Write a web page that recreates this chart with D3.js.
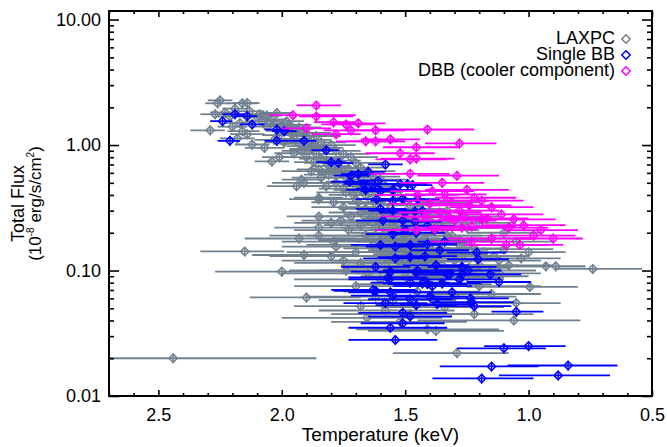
<!DOCTYPE html>
<html>
<head>
<meta charset="utf-8">
<script src="https://cdn.jsdelivr.net/npm/d3@7"></script>
<style>
body { margin: 0; background: #fff; }
svg text { font-family: "Liberation Sans", Arial, Helvetica, sans-serif; fill: #000; }
</style>
</head>
<body>
<svg width="667" height="447"></svg>
<script>
// rows: [kT, kT lower bound, kT upper bound, total flux]
const laxpc = [
  [2.25,2.20,2.30,2.27],[2.26,2.21,2.31,2.15],[2.16,2.10,2.22,2.15],[2.14,2.09,2.20,2.16],
  [2.19,2.14,2.24,1.95],[2.27,2.21,2.33,1.76],[2.23,2.17,2.29,1.82],[2.13,2.07,2.19,1.86],
  [2.09,2.03,2.15,1.76],[2.21,2.15,2.27,1.69],[2.10,2.04,2.16,1.66],[2.06,2.00,2.13,1.72],
  [2.08,2.01,2.15,1.55],[2.04,1.98,2.10,1.60],[2.02,1.96,2.09,1.80],[2.17,2.11,2.23,1.50],
  [2.02,1.95,2.09,1.48],[2.06,1.99,2.12,1.40],[2.20,2.14,2.26,1.40],[2.29,2.23,2.37,1.31],
  [2.16,2.09,2.22,1.29],[2.14,2.07,2.21,1.22],[2.18,2.11,2.25,1.13],[2.00,1.93,2.07,1.42],
  [1.98,1.91,2.05,1.55],[1.94,1.87,2.01,1.35],[1.98,1.90,2.06,1.30],[2.01,1.94,2.08,1.20],
  [1.96,1.89,2.03,1.22],[2.03,1.95,2.11,1.10],[1.95,1.88,2.02,1.12],[1.88,1.80,1.96,1.10],
  [1.99,1.91,2.07,1.05],[2.12,2.05,2.19,1.01],[2.07,1.99,2.15,0.95],[1.93,1.85,2.01,1.02],
  [1.90,1.82,1.98,0.98],[1.83,1.75,1.91,0.95],[1.92,1.84,2.00,0.90],[1.88,1.79,1.97,0.93],
  [1.95,1.87,2.03,0.86],[1.86,1.78,1.94,0.85],[1.90,1.81,1.99,0.80],[2.01,1.94,2.08,0.80],
  [1.84,1.75,1.93,0.78],[1.77,1.68,1.86,0.75],[2.04,1.97,2.11,0.74],[1.87,1.79,1.95,0.73],
  [1.82,1.73,1.91,0.72],[1.80,1.72,1.88,0.68],[1.73,1.64,1.82,0.65],[1.85,1.76,1.94,0.64],
  [1.78,1.69,1.87,0.62],[1.76,1.67,1.85,0.60],[1.81,1.71,1.91,0.58],[1.74,1.64,1.84,0.55],
  [1.92,1.84,2.00,0.53],[1.72,1.62,1.82,0.51],[1.91,1.78,2.04,0.50],[1.65,1.54,1.76,0.48],
  [1.94,1.82,2.06,0.47],[1.82,1.70,1.94,0.47],[1.70,1.60,1.80,0.47],[1.75,1.65,1.85,0.45],
  [1.68,1.57,1.79,0.44],[1.62,1.51,1.73,0.42],[1.66,1.55,1.77,0.40],[1.71,1.61,1.81,0.40],
  [1.85,1.75,1.95,0.38],[1.64,1.53,1.75,0.37],[1.85,1.73,1.97,0.37],[1.79,1.70,1.88,0.35],
  [1.69,1.58,1.80,0.35],[1.62,1.51,1.73,0.34],[1.66,1.55,1.77,0.31],[1.60,1.48,1.72,0.31],
  [1.57,1.45,1.69,0.30],[1.63,1.51,1.75,0.28],[1.58,1.46,1.70,0.28],[1.85,1.72,1.98,0.27],
  [1.56,1.44,1.68,0.26],[1.61,1.49,1.73,0.25],[1.54,1.42,1.66,0.25],[1.76,1.60,1.92,0.25],
  [1.80,1.65,1.95,0.24],[1.55,1.43,1.67,0.23],[1.85,1.67,2.03,0.22],[1.59,1.46,1.72,0.22],
  [1.50,1.37,1.63,0.22],[1.53,1.41,1.65,0.21],[1.46,1.33,1.59,0.20],[1.51,1.38,1.64,0.195],
  [1.57,1.44,1.70,0.19],[1.85,1.65,2.05,0.19],[1.49,1.36,1.62,0.18],[1.42,1.28,1.56,0.18],
  [1.93,1.70,2.15,0.18],[1.79,1.58,2.00,0.17],[1.47,1.33,1.61,0.165],[1.39,1.25,1.53,0.165],
  [1.52,1.38,1.66,0.16],[1.45,1.31,1.59,0.15],[1.36,1.21,1.51,0.15],[1.43,1.29,1.57,0.14],
  [2.15,1.99,2.33,0.142],[1.48,1.33,1.63,0.135],[1.33,1.18,1.48,0.135],[1.91,1.70,2.12,0.133],
  [1.40,1.25,1.55,0.13],[1.27,1.12,1.42,0.125],[1.44,1.29,1.59,0.12],[1.30,1.15,1.45,0.12],
  [1.38,1.23,1.53,0.118],[1.35,1.19,1.51,0.11],[1.20,1.04,1.36,0.11],[1.24,1.08,1.40,0.105],
  [1.74,1.50,1.97,0.10],[1.15,0.97,1.33,0.10],[2.00,1.64,2.27,0.098],
  [1.97,1.88,2.06,1.45],[1.93,1.84,2.02,1.38],[1.90,1.80,2.00,1.25],[1.86,1.76,1.96,1.18],
  [1.84,1.74,1.94,1.05],[1.80,1.70,1.90,1.00],[1.78,1.68,1.88,0.90],[1.75,1.64,1.86,0.85],
  [1.72,1.61,1.83,0.80],[1.70,1.59,1.81,0.72],[1.68,1.57,1.79,0.66],[1.65,1.54,1.76,0.62],
  [1.63,1.52,1.74,0.56],[1.60,1.49,1.71,0.53],[1.58,1.47,1.69,0.47],[1.55,1.44,1.66,0.43],
  [1.53,1.42,1.64,0.40],[1.50,1.39,1.61,0.36],[1.48,1.37,1.59,0.33],[1.45,1.34,1.56,0.31],
  [1.43,1.32,1.54,0.28],[1.40,1.28,1.52,0.25],[1.37,1.25,1.49,0.23],[1.34,1.22,1.46,0.21],
  [1.31,1.19,1.43,0.19],[1.28,1.15,1.41,0.175],[1.25,1.12,1.38,0.16],[1.22,1.09,1.35,0.15],
  [1.18,1.05,1.31,0.14],[1.14,1.00,1.28,0.13],
  [1.88,1.76,2.00,0.62],[1.84,1.72,1.96,0.55],[1.78,1.66,1.90,0.50],[1.74,1.62,1.86,0.42],
  [1.70,1.58,1.82,0.37],[1.75,1.62,1.88,0.32],[1.68,1.55,1.81,0.29],[1.72,1.58,1.86,0.27],
  [1.65,1.52,1.78,0.25],[1.62,1.48,1.76,0.22],[1.68,1.53,1.83,0.23],[1.58,1.44,1.72,0.20],
  [1.64,1.49,1.79,0.18],[1.55,1.40,1.70,0.17],[1.60,1.45,1.75,0.15],[1.50,1.35,1.65,0.145],
  [1.56,1.40,1.72,0.13],[1.46,1.30,1.62,0.125],[1.52,1.36,1.68,0.115],[1.42,1.26,1.58,0.105],
  [1.58,1.40,1.76,0.11],[1.38,1.21,1.55,0.098],[1.50,1.32,1.68,0.09],[1.32,1.15,1.49,0.10],
  [1.28,1.10,1.46,0.088],[1.12,0.95,1.30,0.095],[1.08,0.90,1.26,0.11],[1.03,0.87,1.20,0.125],
  [1.00,0.85,1.15,0.14],[1.05,0.90,1.20,0.17],[1.15,0.98,1.32,0.18],[1.10,0.95,1.25,0.20],
  [1.20,1.05,1.35,0.24],[1.26,1.12,1.40,0.27],[1.33,1.20,1.46,0.30],
  [1.31,1.20,1.45,0.35],[1.40,1.25,1.55,0.27],[1.35,1.20,1.50,0.25],[1.45,1.30,1.65,0.24],
  [1.25,1.10,1.40,0.22],[1.38,1.20,1.55,0.21],[1.73,1.50,1.95,0.21],[1.66,1.45,1.90,0.19],
  [1.33,1.15,1.50,0.19],[1.60,1.40,1.85,0.175],[1.63,1.40,1.90,0.16],[1.28,1.10,1.45,0.16],
  [1.78,1.55,2.00,0.155],[1.10,0.90,1.35,0.148],[1.70,1.45,1.98,0.14],[1.58,1.30,1.85,0.14],
  [1.80,1.55,2.05,0.13],[1.18,1.00,1.40,0.13],[1.52,1.25,1.80,0.12],[1.75,1.50,2.00,0.12],
  [1.12,0.95,1.30,0.12],[1.68,1.40,1.95,0.115],[0.93,0.77,1.20,0.108],[0.89,0.77,1.15,0.108],
  [1.47,1.20,1.75,0.105],[0.74,0.54,0.89,0.103],[1.55,1.25,1.85,0.10],[1.65,1.40,2.00,0.095],
  [1.42,1.15,1.70,0.095],[1.25,1.00,1.50,0.09],[1.35,1.10,1.60,0.085],[1.60,1.35,1.95,0.085],
  [1.40,1.15,1.70,0.078],[1.70,1.45,1.95,0.075],[1.20,0.95,1.45,0.075],[0.995,0.80,1.25,0.074],
  [1.45,1.20,1.75,0.068],[1.15,0.95,1.40,0.065],[1.62,1.35,1.90,0.062],[1.30,1.05,1.55,0.062],
  [1.90,1.68,2.13,0.061],[1.55,1.30,1.85,0.058],[1.05,0.87,1.35,0.055],[1.68,1.40,1.95,0.052],
  [1.34,1.10,1.60,0.051],[1.58,1.30,1.85,0.048],[1.48,1.20,1.80,0.045],[1.22,0.98,1.50,0.045],
  [1.655,1.35,2.00,0.042],[1.06,0.79,1.45,0.040],[1.52,1.25,1.80,0.039],[1.41,1.12,1.70,0.034],
  [1.375,1.10,1.65,0.033],[1.29,1.08,1.55,0.022],[2.44,1.86,3.00,0.020]
];

const singleBB = [
  [2.19,2.15,2.24,1.76],[2.14,2.10,2.19,1.70],[2.24,2.20,2.29,1.55],[2.12,2.07,2.17,1.46],
  [2.21,2.17,2.26,1.08],[2.02,1.97,2.07,1.33],[1.99,1.94,2.04,1.29],[2.02,1.97,2.07,1.08],
  [1.91,1.86,1.97,1.08],[1.82,1.77,1.88,0.91],[1.80,1.74,1.86,0.73],[1.77,1.71,1.83,0.72],
  [1.58,1.51,1.65,0.70],[1.72,1.65,1.79,0.57],[1.69,1.62,1.76,0.585],[1.65,1.58,1.72,0.61],
  [1.725,1.65,1.80,0.51],[1.67,1.60,1.75,0.49],[1.635,1.56,1.71,0.49],[1.61,1.53,1.69,0.52],
  [1.52,1.44,1.60,0.49],[1.49,1.41,1.57,0.49],[1.47,1.39,1.55,0.48],[1.60,1.52,1.68,0.43],
  [1.66,1.58,1.74,0.44],[1.61,1.53,1.70,0.45],[1.55,1.46,1.64,0.44],[1.615,1.53,1.70,0.37],
  [1.55,1.46,1.64,0.36],[1.51,1.42,1.60,0.37],[1.45,1.36,1.54,0.37],[1.60,1.50,1.70,0.31],
  [1.55,1.45,1.65,0.30],[1.50,1.40,1.60,0.29],[1.46,1.36,1.56,0.295],[1.43,1.33,1.53,0.30],
  [1.59,1.48,1.70,0.25],[1.51,1.41,1.62,0.25],[1.46,1.35,1.57,0.245],[1.41,1.30,1.52,0.227],
  [1.50,1.39,1.61,0.21],[1.455,1.34,1.57,0.20],[1.55,1.44,1.66,0.195],[1.38,1.27,1.49,0.21],
  [1.34,1.23,1.45,0.17],[1.41,1.29,1.53,0.162],[1.48,1.36,1.60,0.16],[1.54,1.42,1.66,0.155],
  [1.60,1.48,1.72,0.16],[1.36,1.24,1.48,0.145],[1.42,1.29,1.55,0.13],[1.48,1.35,1.61,0.128],
  [1.54,1.41,1.67,0.125],[1.62,1.48,1.76,0.107],[1.45,1.31,1.59,0.10],[1.375,1.24,1.51,0.11],
  [1.33,1.20,1.46,0.093],[1.27,1.14,1.40,0.093],[1.21,1.09,1.33,0.139],[1.205,1.08,1.33,0.123],
  [1.155,1.03,1.28,0.093],[1.12,0.99,1.25,0.081],[1.56,1.40,1.72,0.098],[1.455,1.30,1.61,0.097],
  [1.27,1.13,1.41,0.107],[1.245,1.11,1.38,0.10],[1.57,1.41,1.73,0.088],[1.565,1.40,1.73,0.085],
  [1.32,1.17,1.47,0.093],[1.28,1.13,1.43,0.085],[1.43,1.27,1.59,0.079],[1.39,1.23,1.55,0.075],
  [1.48,1.32,1.64,0.080],[1.41,1.25,1.57,0.078],[1.35,1.19,1.51,0.079],[1.31,1.15,1.47,0.067],
  [1.63,1.46,1.80,0.070],[1.56,1.39,1.73,0.067],[1.62,1.45,1.79,0.069],[1.55,1.38,1.72,0.063],
  [1.58,1.41,1.75,0.055],[1.48,1.31,1.65,0.059],[1.455,1.29,1.62,0.053],[1.51,1.33,1.69,0.046],
  [1.48,1.31,1.65,0.043],[1.51,1.34,1.68,0.038],[1.56,1.33,1.73,0.035],[1.54,1.37,1.73,0.028],
  [1.235,1.08,1.40,0.060],[1.22,1.07,1.37,0.052],[1.23,1.06,1.40,0.056],[1.05,0.94,1.15,0.047],
  [1.00,0.85,1.18,0.025],[1.10,0.93,1.29,0.024],[0.84,0.64,1.085,0.0175],[1.15,0.96,1.36,0.0172],
  [0.88,0.67,1.12,0.0146],[1.19,0.98,1.39,0.0138],[1.40,1.25,1.55,0.062],[1.37,1.22,1.52,0.054]
];

const dbbCool = [
  [1.86,1.76,1.94,2.07],[1.955,1.70,2.05,1.73],[1.86,1.71,1.93,1.69],[1.90,1.80,2.00,1.36],
  [1.79,1.70,1.87,1.52],[1.74,1.62,1.84,1.46],[1.69,1.58,1.80,1.49],[1.72,1.60,1.83,1.31],
  [1.78,1.68,1.88,1.22],[1.62,1.50,1.74,1.31],[1.66,1.53,1.78,1.07],[1.62,1.50,1.74,1.07],
  [1.56,1.44,1.68,1.11],[1.41,1.22,1.62,1.33],[1.28,1.13,1.42,1.03],[1.455,1.28,1.59,0.96],
  [1.48,1.33,1.62,0.77],[1.455,1.30,1.60,0.78],[1.29,1.12,1.45,0.57],[1.48,1.32,1.64,0.59],
  [1.35,1.18,1.52,0.50],[1.25,1.08,1.42,0.44],[1.39,1.22,1.56,0.43],[1.34,1.17,1.50,0.405],
  [1.22,1.05,1.38,0.38],[1.19,1.02,1.36,0.36],[1.24,1.07,1.40,0.33],[1.15,0.98,1.32,0.32],
  [1.36,1.19,1.53,0.29],[1.11,0.94,1.28,0.28],[1.32,1.15,1.50,0.265],[1.19,1.02,1.36,0.256],
  [1.06,0.89,1.23,0.256],[1.02,0.85,1.19,0.23],[1.27,1.10,1.44,0.22],[1.23,1.05,1.40,0.225],
  [1.38,1.21,1.55,0.213],[1.455,1.28,1.62,0.21],[0.98,0.81,1.15,0.19],[0.90,0.78,1.05,0.18],
  [1.15,0.97,1.33,0.18],[1.23,1.06,1.40,0.17],[1.035,0.86,1.20,0.16],[1.09,0.92,1.26,0.16],
  [1.30,1.13,1.47,0.25],[1.42,1.25,1.60,0.27],[1.52,1.38,1.66,0.86],[1.33,1.16,1.50,0.36],
  [1.28,1.12,1.45,0.30],[1.17,1.00,1.34,0.26],[1.08,0.92,1.25,0.22],[0.95,0.80,1.10,0.21],
  [1.40,1.23,1.57,0.34],[1.45,1.28,1.62,0.40]
];

const fluxRelErr = 0.09;   // small vertical error on each point

const xMajor = [2.5, 2.0, 1.5, 1.0, 0.5];
const xMinor = [2.7,2.6,2.4,2.3,2.2,2.1,1.9,1.8,1.7,1.6,1.4,1.3,1.2,1.1,0.9,0.8,0.7,0.6];
const yMajor = [0.01, 0.1, 1, 10];
const yMinor = [0.02,0.03,0.04,0.05,0.06,0.07,0.08,0.09,
                0.2,0.3,0.4,0.5,0.6,0.7,0.8,0.9,
                2,3,4,5,6,7,8,9];

const legendNames = ["LAXPC", "Single BB", "DBB (cooler component)"];
const seriesColors = ["#708090", "#0000ff", "#ff00ff"];

const margin = {top: 11, right: 15, bottom: 51, left: 109},
  width = 667 - margin.left - margin.right,
  height = 447 - margin.top - margin.bottom;

const svg = d3.select("svg");
const g = svg.append("g")
  .attr("transform", "translate(" + margin.left + "," + margin.top + ")");

const x = d3.scaleLinear().domain([2.7, 0.5]).range([0, width]);
const y = d3.scaleLog().domain([0.01, 11.7]).range([height, 0]);

// clip
g.append("clipPath").attr("id", "clip")
  .append("rect").attr("width", width).attr("height", height);

const plot = g.append("g").attr("clip-path", "url(#clip)");

const diamond = "M0,-4.2L4.2,0L0,4.2L-4.2,0Z";

function drawSeries(data, color) {
  const s = plot.append("g");
  s.selectAll("line.xe")
    .data(data)
    .enter()
    .append("line")
    .attr("x1", d => x(d[2]))
    .attr("x2", d => x(d[1]))
    .attr("y1", d => y(d[3]))
    .attr("y2", d => y(d[3]))
    .attr("stroke", color)
    .attr("stroke-width", 1.8);
  s.selectAll("line.ye")
    .data(data)
    .enter()
    .append("line")
    .attr("x1", d => x(d[0]))
    .attr("x2", d => x(d[0]))
    .attr("y1", d => y(d[3] * (1 - fluxRelErr)))
    .attr("y2", d => y(d[3] * (1 + fluxRelErr)))
    .attr("stroke", color)
    .attr("stroke-width", 1.4);
  s.selectAll("path")
    .data(data)
    .enter()
    .append("path")
    .attr("d", diamond)
    .attr("transform", d => "translate(" + x(d[0]) + "," + y(d[3]) + ")")
    .attr("fill", "none")
    .attr("stroke", color)
    .attr("stroke-width", 1.5);
}

drawSeries(laxpc, seriesColors[0]);
drawSeries(singleBB, seriesColors[1]);
drawSeries(dbbCool, seriesColors[2]);

// axes
function styleAxis(sel) {
  sel.select(".domain").remove();
  sel.selectAll(".tick line").attr("stroke", "#000").attr("stroke-width", 1.6);
  sel.selectAll(".tick text").style("font-size", "18px").attr("fill", "#000");
}

g.append("g").attr("transform", "translate(0," + height + ")")
  .call(d3.axisBottom(x).tickValues(xMajor).tickSize(-6).tickPadding(12).tickFormat(d3.format(".1f")))
  .call(styleAxis);
g.append("g").attr("transform", "translate(0," + height + ")")
  .call(d3.axisBottom(x).tickValues(xMinor).tickSize(-3).tickFormat(""))
  .call(styleAxis);
g.append("g")
  .call(d3.axisTop(x).tickValues(xMajor).tickSize(-6).tickFormat(""))
  .call(styleAxis);
g.append("g")
  .call(d3.axisTop(x).tickValues(xMinor).tickSize(-3).tickFormat(""))
  .call(styleAxis);

g.append("g")
  .call(d3.axisLeft(y).tickValues(yMajor).tickSize(-10).tickPadding(8).tickFormat(d3.format(".2f")))
  .call(styleAxis);
g.append("g")
  .call(d3.axisLeft(y).tickValues(yMinor).tickSize(-5).tickFormat(""))
  .call(styleAxis);
g.append("g").attr("transform", "translate(" + width + ",0)")
  .call(d3.axisRight(y).tickValues(yMajor).tickSize(-10).tickFormat(""))
  .call(styleAxis);
g.append("g").attr("transform", "translate(" + width + ",0)")
  .call(d3.axisRight(y).tickValues(yMinor).tickSize(-5).tickFormat(""))
  .call(styleAxis);

g.append("rect")
  .attr("width", width)
  .attr("height", height)
  .attr("fill", "none")
  .attr("stroke", "#000")
  .attr("stroke-width", 2);

// axis titles
svg.append("text")
  .attr("x", margin.left + width / 2)
  .attr("y", 441)
  .style("text-anchor", "middle")
  .style("font-size", "19px")
  .text("Temperature (keV)");

svg.append("text")
  .attr("transform", "translate(24," + (margin.top + height / 2) + ") rotate(-90)")
  .style("text-anchor", "middle")
  .style("font-size", "18px")
  .text("Total Flux");

const yt = svg.append("text")
  .attr("transform", "translate(41," + (margin.top + height / 2) + ") rotate(-90)")
  .style("text-anchor", "middle")
  .style("font-size", "17px");
yt.append("tspan").text("(10");
yt.append("tspan").attr("dy", -7).style("font-size", "10px").text("-8");
yt.append("tspan").attr("dy", 7).text(" erg/s/cm");
yt.append("tspan").attr("dy", -7).style("font-size", "10px").text("2");
yt.append("tspan").attr("dy", 7).text(")");

// legend
const legend = svg.append("g");
const legendBase = [44, 60, 76];
legendNames.forEach((name, i) => {
  legend.append("text")
    .attr("x", 615)
    .attr("y", legendBase[i])
    .style("text-anchor", "end")
    .style("font-size", "18px")
    .text(name);
  legend.append("path")
    .attr("d", diamond)
    .attr("transform", "translate(626," + (legendBase[i] - 5) + ")")
    .attr("fill", "none")
    .attr("stroke", seriesColors[i])
    .attr("stroke-width", 1.5);
});
</script>
</body>
</html>
